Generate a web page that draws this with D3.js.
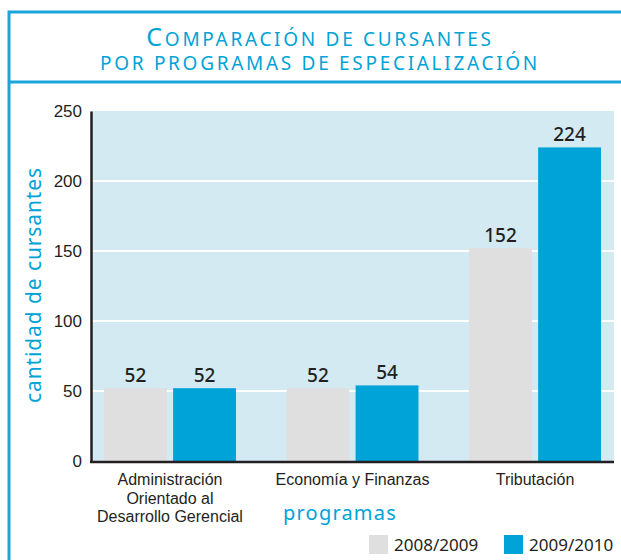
<!DOCTYPE html>
<html>
<head>
<meta charset="utf-8">
<script src="https://cdn.jsdelivr.net/npm/d3@7"></script>
<style>
  body { margin: 0; background: #fff; }
  svg { display: block; font-family: "Noto Sans", "Open Sans", sans-serif; }
</style>
</head>
<body>
<script>
// data
var categories = ["Administración Orientado al Desarrollo Gerencial", "Economía y Finanzas", "Tributación"];
var categoryLines = [["Administración", "Orientado al", "Desarrollo Gerencial"], ["Economía y Finanzas"], ["Tributación"]];
var seriesNames = ["2008/2009", "2009/2010"];
var values2008 = [52, 52, 152];
var values2010 = [52, 54, 224];
var yTicks = [0, 50, 100, 150, 200, 250];

var width = 621, height = 560;
var blue = "#00a3d7", gray = "#dfdfe0", ink = "#231f20";

var svg = d3.select("body").append("svg")
    .attr("width", width)
    .attr("height", height);

// frame
svg.append("path")
    .attr("d", "M9,560 V12 H621 M9,82 H621")
    .attr("fill", "none")
    .attr("stroke", "#1aa6db")
    .attr("stroke-width", 3);

// title, small caps done by hand
var title = svg.append("text")
    .attr("text-anchor", "middle")
    .attr("fill", blue)
    .style("letter-spacing", "2.7px");
var t1 = title.append("tspan").attr("x", 320).attr("y", 46);
t1.append("tspan").attr("font-size", 25).text("C");
t1.append("tspan").attr("font-size", 19).text("OMPARACIÓN DE CURSANTES");
title.append("tspan").attr("x", 320).attr("y", 70).attr("font-size", 19)
    .text("POR PROGRAMAS DE ESPECIALIZACIÓN");

var plot = {left: 91, right: 614, top: 111, bottom: 461};

var y = d3.scaleLinear().domain([0, 250]).range([plot.bottom, plot.top]);
var x0 = d3.scaleBand().domain(categories).range([79, 626]).paddingInner(0.277).paddingOuter(0.137);
var x1 = d3.scaleBand().domain(seriesNames).range([0, x0.bandwidth()]).paddingInner(0.09);
var color = d3.scaleOrdinal().domain(seriesNames).range([gray, blue]);

// background
svg.append("rect")
    .attr("x", plot.left).attr("y", plot.top)
    .attr("width", plot.right - plot.left).attr("height", plot.bottom - plot.top)
    .attr("fill", "#d3eaf3");

// gridlines
svg.append("g").selectAll("line")
    .data(yTicks.filter(function(d) { return d > 0 && d < 250; }))
    .enter().append("line")
    .attr("x1", plot.left).attr("x2", plot.right)
    .attr("y1", function(d) { return y(d); }).attr("y2", function(d) { return y(d); })
    .attr("stroke", "#fff").attr("stroke-width", 2);

// bars
var rows = categories.map(function(c, i) {
    return {cat: c, vals: [{s: seriesNames[0], v: values2008[i]}, {s: seriesNames[1], v: values2010[i]}]};
});
var groups = svg.append("g").selectAll("g")
    .data(rows).enter().append("g")
    .attr("transform", function(d) { return "translate(" + x0(d.cat) + ",0)"; });

groups.selectAll("rect")
    .data(function(d) { return d.vals; })
    .enter().append("rect")
    .attr("x", function(d) { return x1(d.s); })
    .attr("y", function(d) { return y(d.v); })
    .attr("width", x1.bandwidth())
    .attr("height", function(d) { return y(0) - y(d.v); })
    .attr("fill", function(d) { return color(d.s); });

groups.selectAll("text")
    .data(function(d) { return d.vals; })
    .enter().append("text")
    .attr("x", function(d) { return x1(d.s) + x1.bandwidth() / 2; })
    .attr("y", function(d) { return y(d.v) - 6; })
    .attr("text-anchor", "middle")
    .attr("font-size", 19)
    .attr("font-weight", 500)
    .attr("fill", ink)
    .text(function(d) { return d.v; });

// y axis
var yAxis = svg.append("g")
    .attr("transform", "translate(" + plot.left + ",0)")
    .call(d3.axisLeft(y).tickValues(yTicks).tickSize(0).tickPadding(9));
yAxis.select(".domain").attr("stroke", ink).attr("stroke-width", 2.5);
yAxis.selectAll("text").attr("font-size", 17).attr("font-weight", 500)
    .attr("fill", ink).attr("font-family", null);

// x axis line
svg.append("line")
    .attr("x1", plot.left - 1).attr("x2", plot.right)
    .attr("y1", plot.bottom + 1).attr("y2", plot.bottom + 1)
    .attr("stroke", ink).attr("stroke-width", 2.5);

// category labels (one text per line, tight leading like the original)
svg.append("g").selectAll("g")
    .data(categories).enter().append("g")
    .each(function(d, i) {
        var g = d3.select(this);
        var cx = x0(d) + x0.bandwidth() / 2;
        categoryLines[i].forEach(function(line, k) {
            g.append("text")
                .attr("x", cx).attr("y", 485 + k * 18.5)
                .attr("text-anchor", "middle")
                .attr("font-family", "'Liberation Sans', Arial, sans-serif")
                .attr("font-size", 16)
                .attr("fill", ink)
                .text(line);
        });
    });

// axis titles
svg.append("text")
    .attr("transform", "translate(41,285) rotate(-90)")
    .attr("text-anchor", "middle")
    .attr("font-size", 21)
    .attr("fill", blue)
    .style("letter-spacing", "0.9px")
    .text("cantidad de cursantes");

svg.append("text")
    .attr("x", 340).attr("y", 520)
    .attr("text-anchor", "middle")
    .attr("font-size", 20)
    .attr("fill", blue)
    .style("letter-spacing", "1.2px")
    .text("programas");

// legend
var legendX = [369, 504];
var legend = svg.append("g").selectAll("g")
    .data(seriesNames).enter().append("g")
    .attr("transform", function(d, i) { return "translate(" + legendX[i] + ",535)"; });
legend.append("rect")
    .attr("width", 19).attr("height", 19)
    .attr("fill", function(d) { return color(d); });
legend.append("text")
    .attr("x", 25).attr("y", 16)
    .attr("font-size", 17)
    .attr("fill", ink)
    .text(function(d) { return d; });
</script>
</body>
</html>
